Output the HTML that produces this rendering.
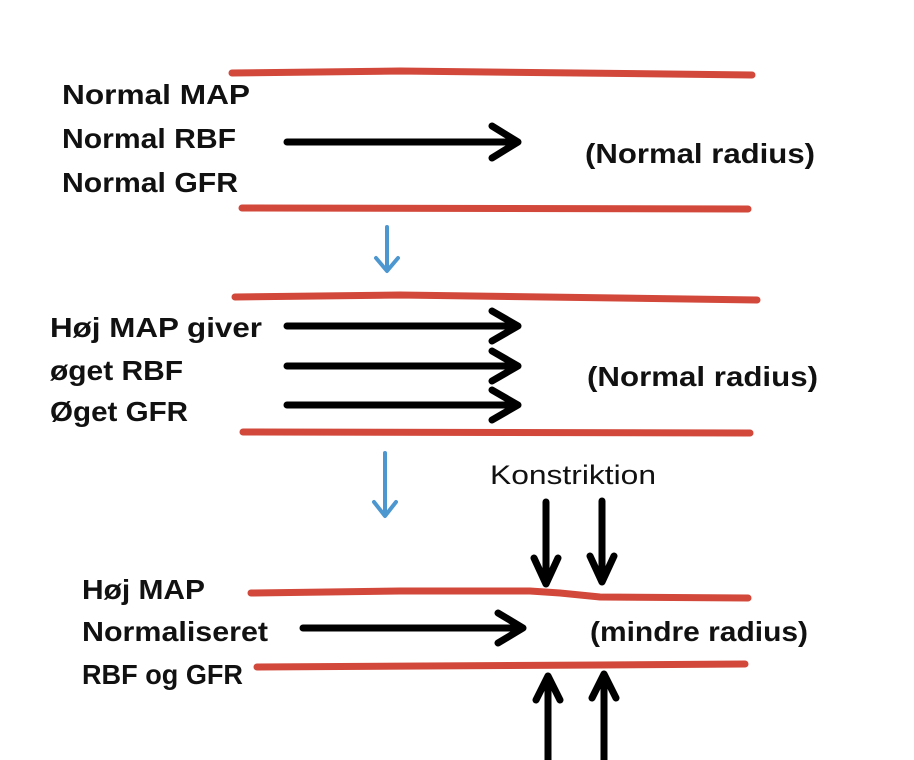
<!DOCTYPE html>
<html><head><meta charset="utf-8"><style>
html,body{margin:0;padding:0;background:#fff;}
svg{display:block;}
.b{font-family:"Liberation Sans",sans-serif;font-weight:bold;font-size:28px;fill:#111;}
.n{font-family:"Liberation Sans",sans-serif;font-size:27px;fill:#111;}
.r{stroke:#d2483a;stroke-width:7;stroke-linecap:round;fill:none;}
.k{stroke:#000;stroke-width:7;stroke-linecap:round;stroke-linejoin:round;fill:none;}
.bl{stroke:#4d97d0;stroke-width:4;stroke-linecap:round;stroke-linejoin:round;fill:none;}
</style></head><body>
<svg width="914" height="760" viewBox="0 0 914 760">
<path class="r" d="M232 73 L400 71 L752 75"/>
<path class="r" d="M242 208 L748 209"/>
<text class="b" x="62" y="104" textLength="188" lengthAdjust="spacingAndGlyphs">Normal MAP</text>
<text class="b" x="62" y="148" textLength="174" lengthAdjust="spacingAndGlyphs">Normal RBF</text>
<text class="b" x="62" y="192" textLength="176" lengthAdjust="spacingAndGlyphs">Normal GFR</text>
<path class="k" d="M287 142 L518 142 M492 126 L518 142 L492 158"/>
<text class="b" x="585" y="163" textLength="230" lengthAdjust="spacingAndGlyphs">(Normal radius)</text>
<path class="bl" d="M387 227 L387 270 M376 258 L387 271 L398 258"/>
<path class="r" d="M235 297 L400 295 L757 300"/>
<path class="r" d="M243 432 L750 433"/>
<text class="b" x="50" y="337" textLength="212" lengthAdjust="spacingAndGlyphs">Høj MAP giver</text>
<text class="b" x="50" y="380" textLength="133" lengthAdjust="spacingAndGlyphs">øget RBF</text>
<text class="b" x="50" y="421" textLength="138" lengthAdjust="spacingAndGlyphs">Øget GFR</text>
<path class="k" d="M287 326 L518 326 M492 311 L518 326 L492 341"/>
<path class="k" d="M287 366 L518 366 M492 351 L518 366 L492 381"/>
<path class="k" d="M287 405 L518 405 M492 390 L518 405 L492 420"/>
<text class="b" x="587" y="386" textLength="231" lengthAdjust="spacingAndGlyphs">(Normal radius)</text>
<path class="bl" d="M385 453 L385 515 M374 502 L385 516 L396 502"/>
<text class="n" x="490" y="484" textLength="166" lengthAdjust="spacingAndGlyphs">Konstriktion</text>
<path class="k" d="M546 502 L546 584 M534 558 L546 584 L558 558"/>
<path class="k" d="M602 501 L602 582 M590 556 L602 582 L614 556"/>
<path class="r" d="M251 593 L400 591 L530 591 L560 593 L600 597 L748 598"/>
<path class="r" d="M257 667 L600 665 L745 664"/>
<text class="b" x="82" y="599" textLength="123" lengthAdjust="spacingAndGlyphs">Høj MAP</text>
<text class="b" x="82" y="641" textLength="186" lengthAdjust="spacingAndGlyphs">Normaliseret</text>
<text class="b" x="82" y="684" textLength="161" lengthAdjust="spacingAndGlyphs">RBF og GFR</text>
<path class="k" d="M303 628 L523 628 M498 613 L523 628 L498 643"/>
<text class="b" x="590" y="641" textLength="218" lengthAdjust="spacingAndGlyphs">(mindre radius)</text>
<path class="k" d="M548 760 L548 676 M536 700 L548 676 L560 700"/>
<path class="k" d="M604 760 L604 674 M592 698 L604 674 L616 698"/>
</svg>
</body></html>
